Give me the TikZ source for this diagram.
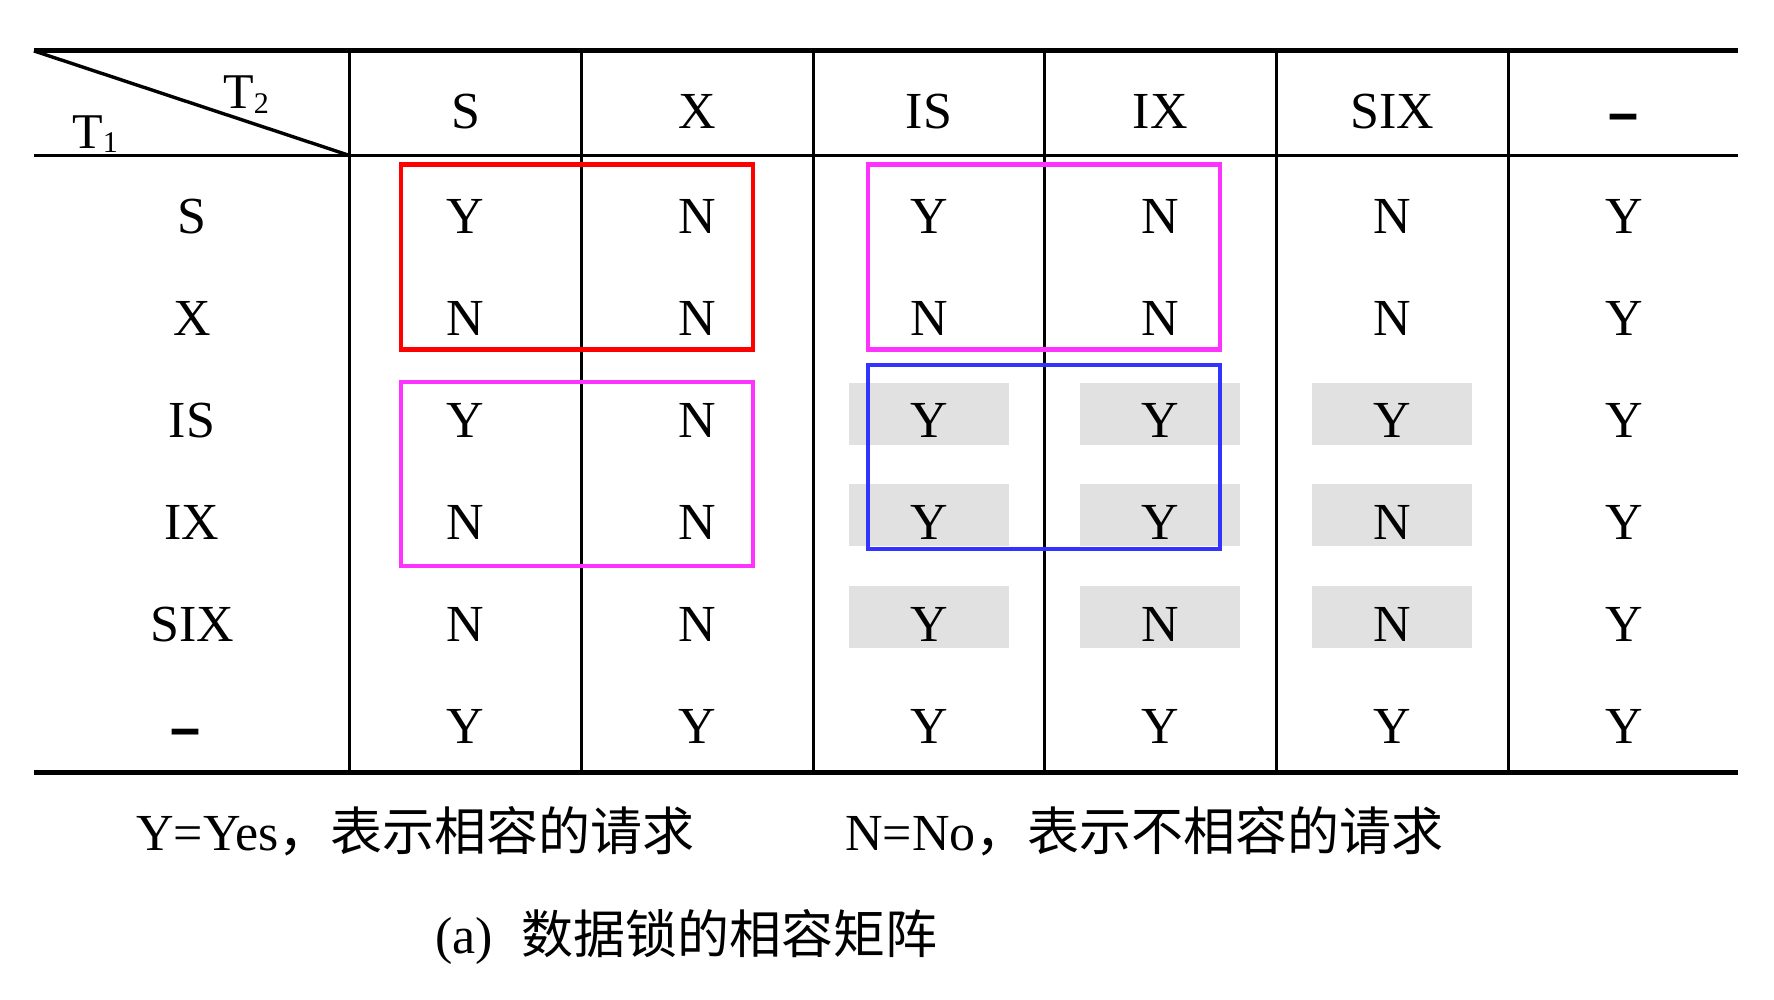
\documentclass[tikz,border=0pt]{standalone}
\usepackage{fontspec}
\usepackage{graphicx}
\setmainfont{Liberation Serif}
\newfontfamily\cjkfont{Noto Sans CJK SC}
\definecolor{boxred}{RGB}{255,0,0}
\definecolor{boxmag}{RGB}{255,51,255}
\definecolor{boxblue}{RGB}{51,51,255}
\definecolor{cellgray}{RGB}{225,225,225}
\newcommand{\heavydash}{\raisebox{-4pt}{\scalebox{1}[1.6]{\textbf{–}}}}
\begin{document}
\begin{tikzpicture}[x=0.5pt,y=-0.5pt,
  txt/.style={anchor=base,inner sep=0pt,font=\fontsize{26}{30}\selectfont},
  tlab/.style={anchor=base west,inner sep=0pt,font=\fontsize{25}{30}\selectfont},
  legtxt/.style={anchor=base west,inner sep=0pt,font=\fontsize{26}{30}\selectfont},
  thickrule/.style={line width=2.5pt,black},
  thinrule/.style={line width=1.6pt,black},
  vrule/.style={line width=1.5pt,black},
  hibox/.style={line width=2.2pt},
  grayfill/.style={fill=cellgray,draw=none}]
\useasboundingbox (0,0) rectangle (1774,1000);

% gray shaded cells
\foreach \yb in {437.6,539.4,641.2}{
  \foreach \xc in {928.9,1160.3,1392.2}{
    \fill[grayfill] (\xc-80,\yb-55) rectangle (\xc+80,\yb+7);
  }
}

% table rules
\coordinate (tl) at (33.9,50.9);
\coordinate (tr) at (1737.8,50.9);
\coordinate (hl) at (33.9,155.5);
\coordinate (hr) at (1737.8,155.5);
\coordinate (hc) at (349.6,155.5);
\coordinate (bl) at (33.9,772.8);
\coordinate (br) at (1737.8,772.8);
\draw[thinrule] (hl) -- (hr);
\foreach \xv [count=\i] in {349.6,581.5,813.5,1044.3,1276.2,1508.2}{
  \coordinate (vt\i) at (\xv,50.9);
  \coordinate (vb\i) at (\xv,772.8);
  \draw[vrule] (vt\i) -- (vb\i);
}
\draw[thickrule] (tl) -- (tr);
\draw[thickrule] (bl) -- (br);
\draw[line width=1.7pt] (tl) -- (hc);

% highlight boxes
\draw[hibox,boxred] (401,164.5) rectangle (753,349.5);
\draw[hibox,boxmag] (868,164.5) rectangle (1220,349.5);
\draw[hibox,boxmag] (401,382) rectangle (753,566);
\draw[hibox,boxblue] (868,365) rectangle (1220,549);

% corner labels
\node[tlab] (t1) at (72,148.3) {T\raisebox{-2pt}{\fontsize{15}{15}\selectfont 1}};
\node[tlab] (t2) at (223,109) {T\raisebox{-2.5pt}{\fontsize{15}{15}\selectfont 2}};

% header
\node[txt] (h-1) at (465.6,129) {S};
\node[txt] (h-2) at (697.5,129) {X};
\node[txt] (h-3) at (928.9,129) {IS};
\node[txt] (h-4) at (1160.3,129) {IX};
\node[txt] (h-5) at (1392.2,129) {SIX};
\node[txt] (h-6) at (1624,129) {\heavydash};

% row labels
\node[txt] (r-1) at (192,234) {S};
\node[txt] (r-2) at (192,335.8) {X};
\node[txt] (r-3) at (192,437.6) {IS};
\node[txt] (r-4) at (192,539.4) {IX};
\node[txt] (r-5) at (192,641.2) {SIX};
\node[txt] (r-6) at (186,743) {\heavydash};

% cells
\foreach \r/\yb/\vals in {1/234/{Y,N,Y,N,N,Y},
                          2/335.8/{N,N,N,N,N,Y},
                          3/437.6/{Y,N,Y,Y,Y,Y},
                          4/539.4/{N,N,Y,Y,N,Y},
                          5/641.2/{N,N,Y,N,N,Y},
                          6/743/{Y,Y,Y,Y,Y,Y}}{
  \foreach \v [count=\c] in \vals {
    \node[txt] (c-\r-\c) at ({465.6+(\c-1)*231.68},\yb) {\v};
  }
}

% legend and caption
\node[legtxt] (leg1) at (136,850) {Y=Yes{\cjkfont ，表示相容的请求}};
\node[legtxt] (leg2) at (845,850) {N=No{\cjkfont ，表示不相容的请求}};
\node[legtxt] (cap) at (435,953) {(a)\hspace{14pt}{\cjkfont 数据锁的相容矩阵}};
\end{tikzpicture}
\end{document}
